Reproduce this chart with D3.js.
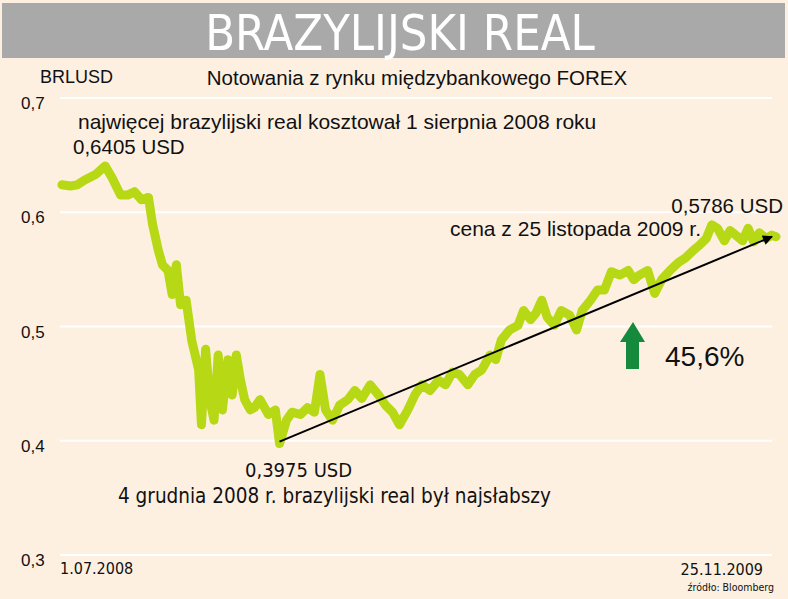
<!DOCTYPE html>
<html>
<head>
<meta charset="utf-8">
<script src="https://cdn.jsdelivr.net/npm/d3@7.9.0/dist/d3.min.js"></script>
<style>
  body { margin: 0; background: #fff; }
  text { font-family: "Liberation Sans", Arial, sans-serif; fill: #111; }
  .narrow { font-family: "DejaVu Sans Condensed", "Liberation Sans", sans-serif; }
</style>
</head>
<body>
<svg id="chart" width="788" height="599"></svg>
<script>
// days since 1.07.2008
const days = [0, 6, 11, 16, 24, 31, 36, 42, 47, 52, 57, 62, 65, 69, 72, 76, 79, 82, 85, 89, 93, 98, 100, 103, 106, 109, 112, 115, 119, 122, 125, 128, 131, 135, 138, 142, 148, 153, 156, 161, 165, 171, 176, 181, 185, 189, 194, 199, 205, 210, 215, 221, 227, 232, 237, 242, 248, 253, 258, 264, 270, 275, 280, 285, 291, 296, 301, 307, 311, 315, 321, 327, 331, 336, 340, 344, 348, 353, 358, 364, 369, 373, 379, 384, 389, 394, 400, 406, 410, 414, 420, 425, 430, 436, 442, 447, 453, 457, 462, 466, 470, 475, 479, 483, 488, 492, 496, 500, 505, 509, 512];
const rates = [0.624, 0.623, 0.624, 0.628, 0.633, 0.6405, 0.630, 0.615, 0.615, 0.618, 0.611, 0.613, 0.589, 0.567, 0.554, 0.549, 0.528, 0.554, 0.519, 0.523, 0.488, 0.462, 0.414, 0.480, 0.436, 0.418, 0.475, 0.427, 0.471, 0.440, 0.475, 0.453, 0.436, 0.427, 0.429, 0.436, 0.423, 0.427, 0.3975, 0.418, 0.425, 0.423, 0.429, 0.425, 0.458, 0.427, 0.418, 0.431, 0.436, 0.444, 0.437, 0.449, 0.440, 0.431, 0.425, 0.414, 0.427, 0.440, 0.449, 0.444, 0.453, 0.449, 0.460, 0.458, 0.449, 0.458, 0.462, 0.475, 0.471, 0.488, 0.497, 0.501, 0.514, 0.506, 0.512, 0.523, 0.508, 0.501, 0.514, 0.510, 0.497, 0.514, 0.523, 0.532, 0.532, 0.548, 0.545, 0.549, 0.541, 0.545, 0.549, 0.529, 0.541, 0.549, 0.556, 0.560, 0.567, 0.571, 0.577, 0.589, 0.586, 0.575, 0.584, 0.580, 0.575, 0.586, 0.574, 0.582, 0.577, 0.580, 0.5786];
const yTicks = [0.3, 0.4, 0.5, 0.6, 0.7];
const xLabels = ["1.07.2008", "25.11.2009"];

const start = new Date(2008, 6, 1);
const data = days.map((d, i) => ({ date: d3.timeDay.offset(start, d), v: rates[i] }));

const svg = d3.select('#chart');
svg.append('rect').attr('width', 788).attr('height', 599).attr('fill', '#fdf0e1');
svg.append('rect').attr('x', 2).attr('y', 3).attr('width', 783).attr('height', 55).attr('fill', '#a9a9a9');
svg.append('text').attr('x', 400).attr('y', 50).attr('text-anchor', 'middle')
  .attr('class', 'narrow').style('font-size', '50px').style('fill', '#fff')
  .attr('transform', 'translate(400,0) scale(0.97,1) translate(-400,0)')
  .text('BRAZYLIJSKI REAL');

const x = d3.scaleTime().domain([start, new Date(2009, 10, 25)]).range([62, 776]);
const y = d3.scaleLinear().domain([0.3, 0.7]).range([555, 98]);

svg.append('g').selectAll('line').data(yTicks).enter().append('line')
  .attr('x1', 60).attr('x2', 772)
  .attr('y1', d => y(d)).attr('y2', d => y(d))
  .attr('stroke', '#fff').attr('stroke-width', 2);

svg.append('g').selectAll('text').data(yTicks).enter().append('text')
  .attr('x', 21).attr('y', d => y(d) + 11)
  .style('font-size', '17px')
  .text(d => d3.format('.1f')(d).replace('.', ','));

svg.append('path').datum(data)
  .attr('fill', 'none').attr('stroke', '#b6d815').attr('stroke-width', 9)
  .attr('stroke-linejoin', 'round').attr('stroke-linecap', 'round')
  .attr('d', d3.line().x(d => x(d.date)).y(d => y(d.v)).curve(d3.curveLinear));

// trend arrow from minimum to last value
svg.append('defs').append('marker').attr('id', 'ah')
  .attr('viewBox', '0 0 10 10').attr('refX', 9).attr('refY', 5)
  .attr('markerWidth', 6).attr('markerHeight', 5).attr('orient', 'auto')
  .append('path').attr('d', 'M0,0L10,5L0,10z').attr('fill', '#000');
const lo = data[38], last = data[data.length - 1];
svg.append('line')
  .attr('x1', x(lo.date)).attr('y1', y(lo.v) - 2)
  .attr('x2', x(last.date) - 4).attr('y2', y(last.v))
  .attr('stroke', '#000').attr('stroke-width', 2).attr('marker-end', 'url(#ah)');

// green up arrow
svg.append('path')
  .attr('d', 'M633,322 L645,342 L639,342 L639,369 L626,369 L626,342 L620,342 Z')
  .attr('fill', '#168a3c');

const t = (xx, yy, s, txt, anchor, cls) => svg.append('text')
  .attr('x', xx).attr('y', yy).style('font-size', s + 'px')
  .attr('text-anchor', anchor || 'start').attr('class', cls || null).text(txt);

t(40, 83, 18, 'BRLUSD');
t(417, 85, 20.5, 'Notowania z rynku międzybankowego FOREX', 'middle');
t(78, 129, 21, 'najwięcej brazylijski real kosztował 1 sierpnia 2008 roku');
t(73, 154, 20.5, '0,6405 USD');
t(783, 213, 20.5, '0,5786 USD', 'end');
t(450, 236, 21, 'cena z 25 listopada 2009 r.');
t(665, 366, 28, '45,6%');
t(245, 477, 20, '0,3975 USD', 'start', 'narrow');
t(118, 503, 20.5, '4 grudnia 2008 r. brazylijski real był najsłabszy', 'start', 'narrow');
t(60, 574, 16, xLabels[0], 'start', 'narrow');
t(763, 575, 16, xLabels[1], 'end', 'narrow');
t(774, 591, 10.5, 'źródło: Bloomberg', 'end', 'narrow');
</script>
</body>
</html>
